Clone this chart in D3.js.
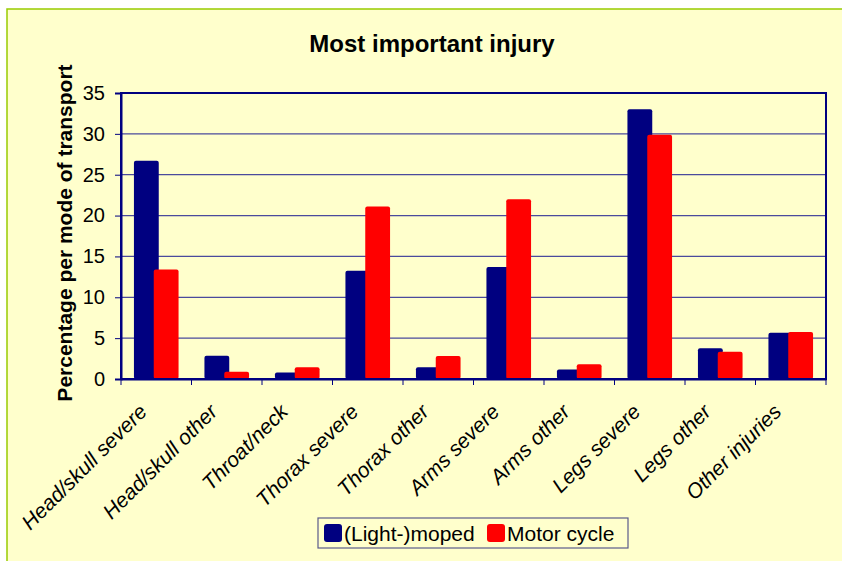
<!DOCTYPE html>
<html>
<head>
<meta charset="utf-8">
<script src="https://cdn.jsdelivr.net/npm/d3@7"></script>
<style>
  body { margin: 0; background: #fff; }
  text { font-family: "Liberation Sans", Arial, sans-serif; }
</style>
</head>
<body>
<svg width="842" height="561"></svg>
<script>
const categories = ["Head/skull severe", "Head/skull other", "Throat/neck", "Thorax severe",
    "Thorax other", "Arms severe", "Arms other", "Legs severe", "Legs other", "Other injuries"];
const seriesNames = ["(Light-)moped", "Motor cycle"];
const moped = [26.7, 2.85, 0.8, 13.25, 1.45, 13.7, 1.15, 33.0, 3.75, 5.65];
const motorCycle = [13.4, 0.9, 1.45, 21.1, 2.8, 22.0, 1.8, 29.9, 3.35, 5.75];
const yTicks = [0, 5, 10, 15, 20, 25, 30, 35];
const colors = ["#000080", "#ff0000"];

var svg = d3.select("svg"),
    width = +svg.attr("width"),
    height = +svg.attr("height");

// plot area
var pl = 121, pr = 826, pt = 93, pb = 379;
var overlap = 2.5; // the two bars of a group slightly overlap

// background + outer border
svg.append("rect")
    .attr("x", 7).attr("y", 9)
    .attr("width", width).attr("height", height)
    .attr("fill", "#ffffcc")
    .attr("stroke", "#99cc00")
    .attr("stroke-width", 1.5);

var x = d3.scaleBand()
    .domain(categories)
    .range([pl, pr]);

var xInner = d3.scaleBand()
    .domain(seriesNames)
    .range([0, x.bandwidth()])
    .paddingInner(0)
    .paddingOuter(0.58);

var y = d3.scaleLinear()
    .domain([0, 35])
    .range([pb, pt]);

// gridlines
svg.append("g")
    .selectAll("line")
    .data(yTicks.filter(d => d > 0 && d < 35))
    .enter().append("line")
    .attr("x1", pl).attr("x2", pr)
    .attr("y1", d => y(d)).attr("y2", d => y(d))
    .attr("stroke", "#4a4a9c")
    .attr("stroke-width", 1.2);

// bars
var rows = categories.map((c, i) => ({ cat: c, values: [moped[i], motorCycle[i]] }));

svg.append("g")
    .selectAll("g")
    .data(rows)
    .enter().append("g")
    .attr("transform", d => "translate(" + x(d.cat) + ",0)")
    .selectAll("rect")
    .data(d => d.values.map((v, j) => ({ name: seriesNames[j], value: v, j: j })))
    .enter().append("rect")
    .attr("x", d => xInner(d.name) - (d.j === 1 ? overlap : 0))
    .attr("width", xInner.bandwidth() + overlap)
    .attr("y", d => y(d.value))
    .attr("height", d => y(0) - y(d.value))
    .attr("rx", 2)
    .attr("fill", d => colors[d.j]);

// plot frame
svg.append("rect")
    .attr("x", pl).attr("y", pt)
    .attr("width", pr - pl).attr("height", pb - pt)
    .attr("fill", "none")
    .attr("stroke", "#000080")
    .attr("stroke-width", 2);

// y axis
var yAxis = d3.axisLeft(y).tickValues(yTicks).tickSize(6).tickPadding(10);
var gy = svg.append("g")
    .attr("transform", "translate(" + pl + ",0)")
    .call(yAxis);
gy.select(".domain").attr("stroke", "#000080").attr("stroke-width", 2);
gy.selectAll(".tick line").attr("stroke", "#000080");
gy.selectAll(".tick text")
    .attr("font-size", 20)
    .attr("font-family", "Liberation Sans, Arial, sans-serif")
    .attr("fill", "#000");

// x axis: ticks between categories
var xAxis = d3.axisBottom(x).tickSize(0).tickFormat("");
var gx = svg.append("g")
    .attr("transform", "translate(0," + pb + ")")
    .call(xAxis);
gx.select(".domain").attr("stroke", "#000080").attr("stroke-width", 2);
gx.selectAll(".tick").remove();

var boundaries = categories.map(c => x(c)).concat([pr]);
gx.selectAll("line.sep")
    .data(boundaries)
    .enter().append("line")
    .attr("class", "sep")
    .attr("x1", d => d).attr("x2", d => d)
    .attr("y1", 0).attr("y2", 6)
    .attr("stroke", "#000080");

gx.selectAll("text.lab")
    .data(categories)
    .enter().append("text")
    .attr("class", "lab")
    .attr("transform", d => "translate(" + (x(d) + x.bandwidth() / 2 - 8) + ",34) rotate(-45)")
    .attr("text-anchor", "end")
    .attr("font-size", 21)
    .attr("font-style", "italic")
    .attr("fill", "#000")
    .text(d => d);

// title
svg.append("text")
    .attr("x", 432).attr("y", 52)
    .attr("text-anchor", "middle")
    .attr("font-size", 24)
    .attr("font-weight", "bold")
    .text("Most important injury");

// y title
svg.append("text")
    .attr("transform", "translate(72,233) rotate(-90)")
    .attr("text-anchor", "middle")
    .attr("font-size", 21)
    .attr("font-weight", "bold")
    .text("Percentage per mode of transport");

// legend
var legend = svg.append("g").attr("transform", "translate(318,518)");
legend.append("rect")
    .attr("width", 310).attr("height", 30)
    .attr("fill", "#ffffcc")
    .attr("stroke", "#5a5a8a")
    .attr("stroke-width", 1.2);
var legX = [6, 169];
seriesNames.forEach((name, i) => {
    legend.append("rect")
        .attr("x", legX[i]).attr("y", 6)
        .attr("width", 18).attr("height", 18)
        .attr("rx", 3)
        .attr("fill", colors[i]);
    legend.append("text")
        .attr("x", legX[i] + 20).attr("y", 23)
        .attr("font-size", 21)
        .text(name);
});
</script>
</body>
</html>
